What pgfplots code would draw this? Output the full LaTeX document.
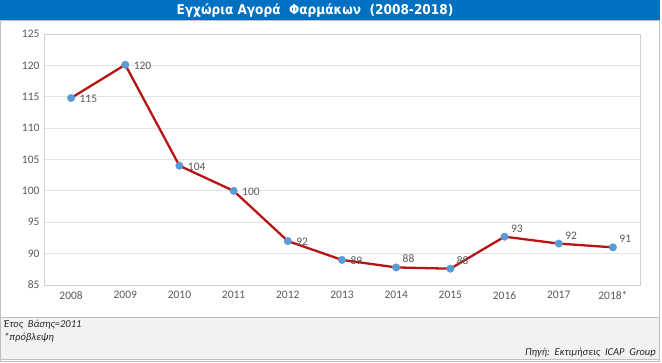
\documentclass[border=0pt]{standalone}
\usepackage{pgfplots}
\usepackage{pgfplotstable}
\pgfplotsset{compat=1.18}
\usepackage{fontspec}
\setmainfont{Carlito}
\newfontfamily\titlefont{DejaVu Sans Condensed}

\definecolor{titleblue}{HTML}{0070C0}
\definecolor{linered}{HTML}{B81414}
\definecolor{markblue}{HTML}{5B9BD5}
\definecolor{gridgray}{HTML}{E3E3E3}
\definecolor{bordergray}{HTML}{D0D0D0}
\definecolor{labelgray}{HTML}{595959}
\definecolor{footfill}{HTML}{F2F2F2}
\definecolor{framegray}{HTML}{BFBFBF}

% Domestic pharmaceutical market index (base year 2011 = 100)
\pgfplotstableread{
x  year  value
0  2008  114.8
1  2009  120.1
2  2010  104.0
3  2011  100.0
4  2012  92.0
5  2013  89.0
6  2014  87.8
7  2015  87.6
8  2016  92.7
9  2017  91.6
10 2018  91.0
}\market

\begin{document}
\begin{tikzpicture}[x=1pt,y=1pt]
\path[use as bounding box] (0,0) rectangle (662,362);

% title bar
\fill[titleblue] (0,342) rectangle (660,362);
\node[text=white, font=\titlefont\bfseries\fontsize{13.5}{15}\selectfont] at (315,351.5)
  {Εγχώρια\ Αγορά\ \ Φαρμάκων\ \ (2008-2018)};

% outer frame
\draw[framegray] (0.5,0.5) rectangle (659.5,342);

% footer
\filldraw[fill=footfill, draw=framegray] (0.5,3) rectangle (659.5,45);
\begin{scope}[every node/.style={font=\itshape\fontsize{10.5}{12}\selectfont, text=black!85, inner sep=0pt}]
\node[anchor=west] at (4,37) {Έτος\ \ Βάσης=2011};
\node[anchor=west] at (4,24) {*πρόβλεψη};
\node[anchor=east] at (656,9) {Πηγή:\ \ Εκτιμήσεις\ \ ICAP\ \ Group};
\end{scope}

\begin{axis}[
  at={(44pt,77pt)}, anchor=south west,
  scale only axis, width=596pt, height=251pt,
  xmin=-0.5, xmax=10.5, ymin=85, ymax=125,
  xtick={0,...,10},
  xticklabels={2008,2009,2010,2011,2012,2013,2014,2015,2016,2017,2018*},
  ytick={85,90,...,125},
  ymajorgrids, grid style={gridgray, line width=0.8pt},
  axis line style={bordergray, line width=0.8pt},
  major tick style={draw=none},
  /pgf/number format/assume math mode=true,
  ticklabel style={font=\fontsize{11.5}{13}\selectfont, text=labelgray},
  xticklabel style={yshift=-3pt},
  yticklabel style={xshift=-1pt},
  nodes near coords={\pgfmathprintnumber[fixed,precision=0]{\pgfplotspointmeta}},
  every node near coord/.append style={font=\fontsize{11.5}{13}\selectfont, text=labelgray},
]
\addplot[color=linered, line width=2.3pt, mark=none, nodes near coords={}]
  table[x=x, y=value] {\market};
\addplot[only marks, mark=*, mark size=3.8pt,
  mark options={solid, fill=markblue, draw=markblue, line width=0.3pt},
  nodes near coords={}] table[x=x, y=value] {\market};

% value labels to the right of the points
\addplot[draw=none, mark=none, point meta=y, restrict x to domain=0:5,
  every node near coord/.append style={anchor=west, xshift=5pt, yshift=-1pt}]
  table[x=x, y=value] {\market};

% value labels above and to the right of the points
\addplot[draw=none, mark=none, point meta=y, restrict x to domain=6:10,
  every node near coord/.append style={anchor=south west, xshift=3pt, yshift=1pt}]
  table[x=x, y=value] {\market};
\end{axis}
\end{tikzpicture}
\end{document}
